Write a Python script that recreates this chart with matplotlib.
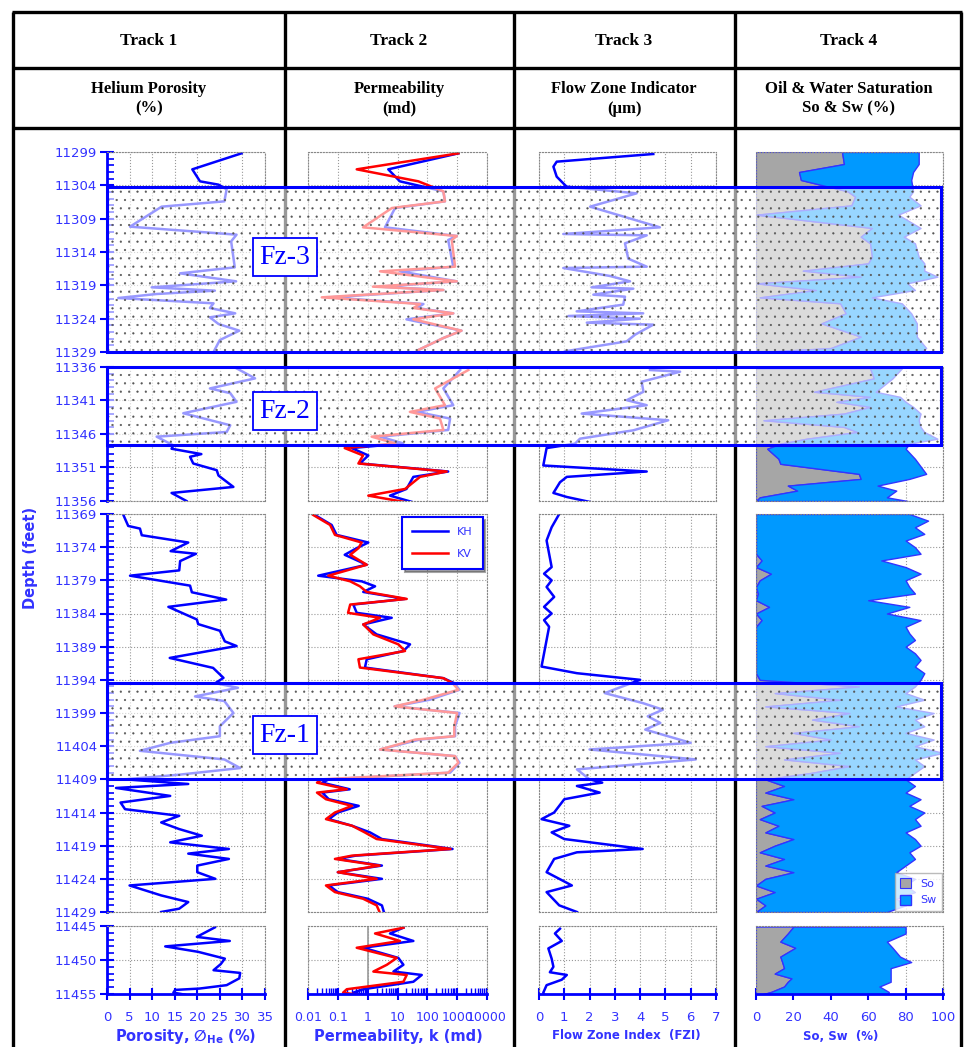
import numpy as np
import matplotlib.pyplot as plt
from matplotlib.patches import Rectangle
from matplotlib.ticker import FixedLocator, MultipleLocator, LogLocator, NullFormatter

plt.rcParams['hatch.linewidth'] = 0.35

# ---------------- core data (depth in feet) ----------------
# Track 1: helium porosity (%)
por_dep_a = [11299.2, 11301.6, 11303.4, 11303.9, 11304.6, 11306.4, 11307.2, 11310.2, 11311.4, 11312.4,
             11316.3, 11317.2, 11318.4, 11319.3, 11319.8, 11320.3, 11320.9, 11321.7, 11322.4, 11323.2,
             11323.8, 11324.8, 11325.8, 11327.2, 11329.0]
por_a = [29.8, 18.9, 20.6, 24.7, 26.5, 26.0, 12.1, 5.1, 28.7, 27.5,
         28.3, 16.2, 28.6, 9.9, 23.9, 11.0, 2.5, 23.6, 22.8, 28.4,
         22.8, 24.7, 29.3, 25.0, 23.6]
por_dep_b = [11336.2, 11337.7, 11339.2, 11339.9, 11341.2, 11342.9, 11344.7, 11345.7, 11346.4, 11347.7,
             11348.2, 11349.0, 11349.4, 11350.4, 11351.4, 11352.2, 11353.9, 11354.8, 11356.0]
por_b = [28.7, 32.8, 22.8, 27.3, 28.7, 16.9, 27.3, 26.5, 11.0, 14.7,
         14.3, 20.9, 18.4, 19.1, 24.3, 24.7, 28.0, 14.3, 17.6]
por_dep_c = [11369.1, 11370.8, 11371.2, 11372.2, 11373.3, 11374.6, 11375.0, 11376.1, 11377.5, 11378.3,
             11379.8, 11380.8, 11381.9, 11383.0, 11384.9, 11385.6, 11386.6, 11388.2, 11388.9, 11390.7,
             11392.2, 11393.7, 11394.5, 11395.2, 11396.5, 11397.2, 11399.0, 11401.0, 11402.5, 11403.5,
             11404.7, 11406.0, 11407.3, 11408.3, 11409.0, 11409.7, 11410.3, 11411.5, 11412.5, 11413.5,
             11414.5, 11415.5, 11416.5, 11417.5, 11418.5, 11419.5, 11420.2, 11421.0, 11422.0, 11423.0,
             11424.0, 11425.0, 11426.5, 11427.5, 11428.5, 11429.0]
por_c = [3.6, 4.7, 7.3, 7.7, 18.0, 14.1, 19.7, 16.2, 16.0, 5.1,
         18.4, 18.8, 26.4, 13.6, 19.9, 20.2, 25.0, 26.1, 28.7, 13.9,
         23.5, 25.8, 24.0, 29.0, 19.5, 26.0, 28.0, 25.0, 25.0, 14.0,
         7.3, 26.0, 29.5, 16.0, 4.0, 18.0, 2.0, 14.0, 3.0, 4.0,
         16.0, 12.0, 16.0, 21.0, 14.0, 27.0, 18.0, 27.0, 20.0, 20.0,
         24.0, 5.0, 12.0, 18.0, 16.0, 12.0]
por_dep_d = [11445.2, 11446.6, 11447.2, 11448.0, 11448.8, 11449.8, 11450.6, 11451.5, 11451.9, 11452.7,
             11453.7, 11454.2, 11454.4, 11454.8, 11455.1]
por_d = [23.9, 19.9, 27.2, 12.9, 20.2, 26.1, 25.2, 23.6, 29.5, 29.3,
         26.5, 20.5, 15.1, 14.7, 17.3]

# Track 2: permeability (md), horizontal KH and vertical KV
perm_dep_a = [11299.2, 11301.6, 11303.4, 11304.9, 11306.4, 11307.4, 11310.3, 11311.6, 11312.2, 11316.2,
              11316.9, 11318.4, 11319.2, 11319.7, 11320.8, 11321.8, 11322.4, 11323.2, 11324.1, 11325.8,
              11326.9, 11328.7]
kh_a = [1100, 4.9, 12, 345, 390, 8.3, 3.8, 970, 500, 740,
        12, 970, 2.6, 345, 0.055, 74, 44, 740, 20, 1400,
        345, 50]
kv_a = [1100, 0.43, 50, 345, 390, 6.5, 0.7, 970, 660, 850,
        2.6, 970, 1.5, 345, 0.029, 57, 34, 740, 34, 1400,
        345, 50]
perm_dep_b = [11336.45, 11339.2, 11341.7, 11342.7, 11343.7, 11345.4, 11346.4, 11347.4, 11348.1, 11349.2,
              11350.4, 11351.6, 11352.4, 11354.2, 11355.2, 11356.2]
kh_b = [1260, 345, 740, 44, 580, 500, 2.6, 15.6, 0.29, 1.05,
        0.55, 500, 34, 20, 5.6, 34]
kv_b = [2370, 182, 390, 26, 265, 345, 1.36, 8.3, 0.17, 0.7,
        0.49, 445, 57, 18, 1.05, 20]
perm_dep_c = [11369.15, 11370.65, 11372.15, 11373.3, 11374.15, 11375.15, 11376.65, 11378.3, 11379.15, 11379.9,
              11380.75, 11381.8, 11382.65, 11383.9, 11384.65, 11385.65, 11387.15, 11388.65, 11389.65, 11390.9,
              11392.15, 11393.75, 11394.5, 11395.5, 11397.0, 11398.0, 11399.0, 11401.0, 11402.5, 11403.0,
              11404.5, 11405.5, 11406.5, 11408.0, 11409.0, 11409.5, 11410.5, 11411.0, 11412.0, 11413.0,
              11414.0, 11415.0, 11416.0, 11417.0, 11418.0, 11419.5, 11420.5, 11421.0, 11422.0, 11423.0,
              11424.0, 11425.0, 11426.0, 11427.0, 11428.0, 11429.0]
kh_c = [0.017, 0.062, 0.091, 1.05, 0.43, 0.17, 0.93, 0.022, 0.63, 1.77,
        0.71, 17.9, 0.33, 0.43, 6.4, 0.71, 2.0, 26.3, 15.8, 0.93,
        0.81, 345, 800, 1200, 120, 8, 1200, 850, 850, 56,
        2.6, 850, 1200, 580, 0.05, 0.03, 0.25, 0.03, 0.05, 0.5,
        0.1, 0.05, 0.3, 1.2, 3.0, 700, 0.4, 0.1, 3.0, 0.1,
        3.0, 0.05, 0.1, 1.0, 3.0, 3.5]
kv_c = [0.015, 0.055, 0.080, 0.63, 0.49, 0.26, 0.93, 0.048, 0.26, 0.55,
        0.93, 20.4, 0.26, 0.22, 2.6, 0.71, 1.55, 10.7, 17.9, 0.49,
        0.55, 345, 700, 1100, 75, 8, 1000, 800, 800, 40,
        2.6, 850, 1100, 500, 0.03, 0.02, 0.2, 0.02, 0.04, 0.3,
        0.08, 0.04, 0.3, 0.8, 2.0, 600, 0.3, 0.08, 2.5, 0.1,
        2.0, 0.04, 0.08, 0.7, 2.0, 2.5]
perm_dep_d = [11445.25, 11446.1, 11447.2, 11448.2, 11449.7, 11450.7, 11451.7, 11452.2, 11453.2, 11454.3,
              11454.8, 11455.25]
kh_d = [15.8, 5.6, 34, 0.71, 10.7, 15.8, 7.3, 65, 34, 0.71, 0.33, 0.93]
kv_d = [15.8, 1.77, 12.1, 0.43, 9.4, 4.4, 1.55, 20.4, 15.8, 0.20, 0.15, 0.81]

# Track 3: flow zone indicator (micron)
fzi_dep_a = [11299.3, 11300.45, 11301.2, 11302.7, 11304.2, 11305.2, 11307.2, 11310.3, 11311.3, 11311.5,
             11312.7, 11315.0, 11316.2, 11316.4, 11317.6, 11318.4, 11319.3, 11319.5, 11320.4, 11320.7,
             11321.9, 11322.9, 11323.2, 11323.6, 11324.0, 11324.6, 11324.9, 11326.4, 11327.4, 11328.9]
fzi_a = [4.52, 0.70, 0.57, 0.70, 1.09, 3.86, 2.02, 4.78, 0.96, 4.26,
         3.40, 3.53, 4.26, 0.96, 2.81, 3.60, 2.08, 3.73, 2.15, 3.40,
         3.33, 1.49, 4.12, 1.16, 3.99, 1.89, 4.52, 3.80, 3.47, 1.03]
fzi_dep_b = [11336.45, 11336.7, 11338.2, 11339.7, 11340.95, 11341.7, 11342.95, 11343.95, 11345.45, 11346.7,
             11347.45, 11348.1, 11350.7, 11351.6, 11352.4, 11353.2, 11354.8, 11355.4, 11356.2]
fzi_b = [4.39, 5.58, 4.06, 4.13, 3.47, 4.26, 1.69, 5.11, 3.73, 1.62,
         1.42, 0.30, 0.17, 4.26, 1.10, 0.83, 0.57, 1.10, 2.08]
fzi_dep_c = [11369.0, 11371.0, 11373.0, 11375.0, 11377.0, 11378.0, 11379.0, 11380.0, 11381.5, 11383.0,
             11384.0, 11385.0, 11386.0, 11388.0, 11390.0, 11392.0, 11393.0, 11394.0, 11396.0, 11397.5,
             11398.5, 11399.5, 11400.5, 11401.5, 11403.5, 11404.5, 11406.0, 11407.5, 11409.0, 11409.5,
             11410.0, 11411.0, 11412.0, 11413.0, 11414.0, 11415.0, 11416.0, 11417.0, 11418.0, 11419.5,
             11420.0, 11421.0, 11423.0, 11424.0, 11425.0, 11426.0, 11428.0, 11429.0]
fzi_c = [0.8, 0.5, 0.3, 0.4, 0.5, 0.2, 0.5, 0.3, 0.6, 0.2,
         0.5, 0.2, 0.4, 0.3, 0.2, 0.1, 1.5, 4.0, 2.6, 4.1,
         4.9, 4.3, 4.8, 4.2, 6.0, 2.0, 6.2, 1.5, 2.0, 2.5,
         1.5, 2.4, 1.0, 0.8, 0.6, 0.1, 1.2, 0.5, 1.0, 4.1,
         1.5, 0.6, 0.3, 0.8, 1.3, 0.3, 0.8, 1.5]
fzi_dep_d = [11445.4, 11446.1, 11447.2, 11448.3, 11449.8, 11451.0, 11451.8, 11452.2, 11452.9, 11453.7,
             11454.8, 11455.3]
fzi_d = [0.83, 0.63, 0.90, 0.37, 0.50, 0.57, 0.43, 1.10, 0.90, 0.30, 0.17, 0.24]

# Track 4: oil and water saturation (%)
sat_dep_a = [11299.0, 11300.8, 11302.0, 11303.2, 11304.9, 11305.7, 11307.0, 11308.4, 11310.4, 11311.7,
             11312.7, 11314.7, 11315.7, 11316.8, 11317.7, 11318.7, 11319.7, 11320.8, 11321.7, 11323.2,
             11324.7, 11326.7, 11328.4, 11329.0]
so_a = [46, 47, 23, 24, 49, 53, 51, 0, 62, 56,
        61, 62, 60, 25, 56, 0, 32, 2, 45, 48,
        35, 56, 40, 2]
sw_a = [41, 40, 61, 59, 35, 29, 37, 76, 26, 23,
        24, 25, 30, 65, 41, 81, 53, 60, 33, 35,
        51, 30, 51, 86]
sat_dep_b = [11336.2, 11337.7, 11339.7, 11340.45, 11341.2, 11341.95, 11342.95, 11343.95, 11344.95, 11345.7,
             11346.7, 11347.45, 11348.2, 11349.7, 11350.45, 11351.95, 11352.7, 11353.7, 11354.45, 11355.45,
             11356.0]
so_b = [61, 63, 31, 61, 43, 61, 47, 4, 47, 54,
        27, 13, 6, 12, 13, 55, 56, 17, 22, 2,
        0]
sw_b = [17, 10, 33, 16, 37, 23, 41, 83, 41, 36,
        70, 69, 74, 73, 74, 36, 26, 48, 53, 68,
        81]
sat_dep_c = [11369, 11370, 11371, 11372, 11373, 11374, 11375, 11376, 11377, 11378,
             11379, 11380, 11381, 11382, 11383, 11384, 11385, 11386, 11387, 11388,
             11389, 11390, 11391, 11392, 11393, 11394, 11395, 11396, 11397, 11398,
             11399, 11400, 11401, 11402, 11403, 11404, 11405, 11406, 11407, 11408,
             11409, 11410, 11411, 11412, 11413, 11414, 11415, 11416, 11417, 11418,
             11419, 11420, 11421, 11422, 11423, 11424, 11425, 11426, 11427, 11428,
             11429]
so_c = [0, 0, 0, 0, 0, 0, 0, 3, 0, 8,
        2, 0, 1, 0, 7, 0, 3, 0, 0, 0,
        0, 0, 0, 0, 0, 2, 55, 10, 45, 5,
        50, 30, 55, 20, 40, 5, 45, 15, 50, 30,
        5, 15, 5, 20, 3, 10, 2, 12, 5, 20,
        10, 2, 15, 5, 20, 5, 0, 10, 0, 5,
        0]
sw_c = [82, 92, 85, 90, 80, 85, 88, 64, 80, 80,
        78, 82, 84, 60, 75, 70, 85, 80, 82, 85,
        80, 85, 88, 85, 90, 86, 30, 70, 45, 70,
        45, 55, 35, 60, 55, 80, 55, 70, 40, 55,
        75, 70, 75, 68, 79, 80, 83, 76, 75, 65,
        78, 80, 70, 75, 55, 80, 80, 75, 75, 75,
        70]
sat_dep_d = [11445.1, 11446.1, 11447.3, 11448.2, 11449.5, 11450.3, 11451.2, 11452.0, 11452.7, 11453.2,
             11453.9, 11454.7, 11455.3]
so_d = [20, 17, 13, 21, 13, 14, 15, 10, 19, 17, 15, 8, 0]
sw_d = [60, 63, 57, 52, 64, 69, 57, 62, 53, 55, 51, 63, 70]

# flow zones (top, bottom depth, label)
zone_top = [11304.3, 11336.0, 11394.5]
zone_bot = [11329.0, 11347.7, 11409.0]
zone_names = ['Fz-3', 'Fz-2', 'Fz-1']

# depth intervals plotted in each row
seg_top = [11299, 11336, 11369, 11445]
seg_bot = [11329, 11356, 11429, 11455]

# ---------------- layout (pixels) ----------------
W, H = 968, 1047
seg_px = [(152, 352), (367, 501), (514, 912), (926, 994)]
trk_px = [(107, 265), (308, 487), (539, 716), (756, 943)]
BLUE = '#0000ff'
TXT = '#3333ff'
RED = '#ff0000'
GREY = '#a6a6a6'
SWB = '#0099ff'

fig = plt.figure(figsize=(W / 100, H / 100), dpi=100)


def box(x0, y0, x1, y1):
    return [x0 / W, 1 - y1 / H, (x1 - x0) / W, (y1 - y0) / H]


def dpx(d):
    for (t, b), (y0, y1) in zip(zip(seg_top, seg_bot), seg_px):
        if t - 0.01 <= d <= b + 0.01:
            return y0 + (d - t) * (y1 - y0) / (b - t)
    raise ValueError(d)


# background: table frame
bg = fig.add_axes([0, 0, 1, 1], zorder=0)
bg.set_xlim(0, W)
bg.set_ylim(H, 0)
bg.axis('off')
lw_tab = 2.4
for x in [13, 285, 514, 735, 961]:
    bg.plot([x, x], [12, H], color='black', lw=lw_tab, solid_capstyle='butt')
for y in [12, 68, 128]:
    bg.plot([12, 962], [y, y], color='black', lw=lw_tab, solid_capstyle='butt')

heads = ['Track 1', 'Track 2', 'Track 3', 'Track 4']
titles = ['Helium Porosity\n(%)', 'Permeability\n(md)', 'Flow Zone Indicator\n(\u00b5m)',
          'Oil & Water Saturation\nSo & Sw (%)']
col_cx = [149, 399, 624, 849]
for cx, h, t in zip(col_cx, heads, titles):
    bg.text(cx, 41, h, ha='center', va='center', fontsize=12.5, fontweight='bold',
            family='Liberation Serif')
    bg.text(cx, 99, t, ha='center', va='center', fontsize=12, fontweight='bold',
            family='Liberation Serif', linespacing=1.3)

bg.text(30, 558, 'Depth (feet)', rotation=90, ha='center', va='center', fontsize=10.5,
        fontweight='bold', color=TXT)
bg.text(186, 1036, 'Porosity, \u2205$_{\\mathbf{He}}$ (%)', ha='center', va='center',
        fontsize=10.5, fontweight='bold', color=TXT)
bg.text(398, 1036, 'Permeability, k (md)', ha='center', va='center', fontsize=10.5,
        fontweight='bold', color=TXT)
bg.text(626, 1036, 'Flow Zone Index  (FZI)', ha='center', va='center', fontsize=8.5,
        fontweight='bold', color=TXT)
bg.text(841, 1036, 'So, Sw  (%)', ha='center', va='center', fontsize=8.5,
        fontweight='bold', color=TXT)

por_dep = [por_dep_a, por_dep_b, por_dep_c, por_dep_d]
por = [por_a, por_b, por_c, por_d]
perm_dep = [perm_dep_a, perm_dep_b, perm_dep_c, perm_dep_d]
kh = [kh_a, kh_b, kh_c, kh_d]
kv = [kv_a, kv_b, kv_c, kv_d]
fzi_dep = [fzi_dep_a, fzi_dep_b, fzi_dep_c, fzi_dep_d]
fzi = [fzi_a, fzi_b, fzi_c, fzi_d]
sat_dep = [sat_dep_a, sat_dep_b, sat_dep_c, sat_dep_d]
so = [so_a, so_b, so_c, so_d]
sw = [sw_a, sw_b, sw_c, sw_d]

for i in range(4):
    top, bot = seg_top[i], seg_bot[i]
    y0, y1 = seg_px[i]
    last = (i == 3)
    for j in range(4):
        x0, x1 = trk_px[j]
        ax = fig.add_axes(box(x0, y0, x1, y1), zorder=1)
        ax.set_facecolor('none')
        ax.set_axisbelow(True)
        ax.set_ylim(bot, top)
        for s in ax.spines.values():
            s.set_linestyle(':')
            s.set_color('#888888')
            s.set_linewidth(0.8)
        ax.yaxis.set_major_locator(FixedLocator(np.arange(top, bot + 1, 5)))
        ax.grid(True, which='major', ls=':', color='#999999', lw=0.8)

        if j == 0:
            ax.spines['left'].set_linestyle('-')
            ax.spines['left'].set_color(BLUE)
            ax.spines['left'].set_linewidth(2)
            ax.yaxis.set_minor_locator(MultipleLocator(1))
            ax.tick_params(axis='y', which='major', direction='inout', length=10, width=1.5,
                           color=BLUE, labelcolor=TXT, labelsize=9.5, pad=2)
            ax.tick_params(axis='y', which='minor', direction='in', length=5, width=1.2, color=BLUE)
        else:
            ax.tick_params(axis='y', which='both', left=False, labelleft=False)

        if j == 0:
            ax.plot(por[i], por_dep[i], color=BLUE, lw=1.8)
            ax.set_xlim(0, 35)
            ax.set_xticks(np.arange(0, 36, 5))
        elif j == 1:
            ax.set_xscale('log')
            ax.plot(kh[i], perm_dep[i], color=BLUE, lw=1.8, label='KH')
            ax.plot(kv[i], perm_dep[i], color=RED, lw=1.8, label='KV')
            ax.set_xlim(0.01, 10000)
            ax.set_xticks([0.01, 0.1, 1, 10, 100, 1000, 10000],
                          ['0.01', '0.1', '1', '10', '100', '1000', '10000'])
            ax.xaxis.set_minor_locator(LogLocator(base=10, subs=np.arange(2, 10), numticks=20))
            ax.xaxis.set_minor_formatter(NullFormatter())
            if last:
                ax.axvline(1, color='#999999', lw=1.2, zorder=0.5)
            if i == 2:
                leg = ax.legend(loc='upper right', bbox_to_anchor=(0.975, 0.993), borderaxespad=0,
                                fontsize=8, handlelength=3.2, labelspacing=1.1, fancybox=False,
                                shadow=True, labelcolor=TXT, borderpad=0.9)
                leg.get_frame().set_edgecolor(BLUE)
                leg.get_frame().set_linewidth(1.5)
        elif j == 2:
            ax.plot(fzi[i], fzi_dep[i], color=BLUE, lw=1.8)
            ax.set_xlim(0, 7)
            ax.set_xticks(np.arange(0, 8, 1))
        else:
            s_o = np.array(so[i], dtype=float)
            s_t = s_o + np.array(sw[i], dtype=float)
            h1 = ax.fill_betweenx(sat_dep[i], 0, s_o, facecolor=GREY, edgecolor=TXT, lw=0.8,
                                  label='So')
            h2 = ax.fill_betweenx(sat_dep[i], s_o, s_t, facecolor=SWB, edgecolor=TXT, lw=1.0,
                                  label='Sw')
            ax.set_xlim(0, 100)
            ax.set_xticks(np.arange(0, 101, 20))
            if i == 2:
                leg = ax.legend(handles=[h1, h2], loc='lower right', bbox_to_anchor=(1.0, 0.0),
                                borderaxespad=0.1, fontsize=8, handlelength=1.0, handleheight=1.0,
                                fancybox=False, labelcolor=TXT, borderpad=0.5)
                leg.get_frame().set_edgecolor('#aaaaaa')

        if last:
            ax.spines['bottom'].set_linestyle('-')
            ax.spines['bottom'].set_color(BLUE)
            ax.spines['bottom'].set_linewidth(2)
            ax.tick_params(axis='x', which='major', direction='inout', length=9, width=1.5,
                           color=BLUE, labelcolor=TXT, labelsize=9.5, pad=8)
            ax.tick_params(axis='x', which='minor', direction='in', length=4, width=1.0, color=BLUE)
            if j == 1:
                ax.tick_params(axis='x', which='major', labelsize=9)
        else:
            ax.tick_params(axis='x', which='both', bottom=False, labelbottom=False)

# flow-zone overlay boxes
ov = fig.add_axes([0, 0, 1, 1], zorder=10)
ov.set_xlim(0, W)
ov.set_ylim(H, 0)
ov.axis('off')
zx0, zx1 = 107, 941
lab_y = [257, 411, 735]
for t, b, name, ly in zip(zone_top, zone_bot, zone_names, lab_y):
    ya, yb = dpx(t), dpx(b)
    ov.add_patch(Rectangle((zx0, ya), zx1 - zx0, yb - ya, facecolor='white', alpha=0.6,
                           edgecolor='none'))
    ov.add_patch(Rectangle((zx0, ya), zx1 - zx0, yb - ya, facecolor='none', edgecolor='#555555',
                           hatch='..', lw=0))
    ov.add_patch(Rectangle((zx0, ya), zx1 - zx0, yb - ya, fill=False, edgecolor=BLUE, lw=2.2))
    ov.text(285, ly, name, ha='center', va='center', fontsize=20, family='Liberation Serif',
            color=BLUE, bbox=dict(boxstyle='square,pad=0.22', fc='white', ec=BLUE, lw=1.3))

fig.savefig('out.png', dpi=100)
